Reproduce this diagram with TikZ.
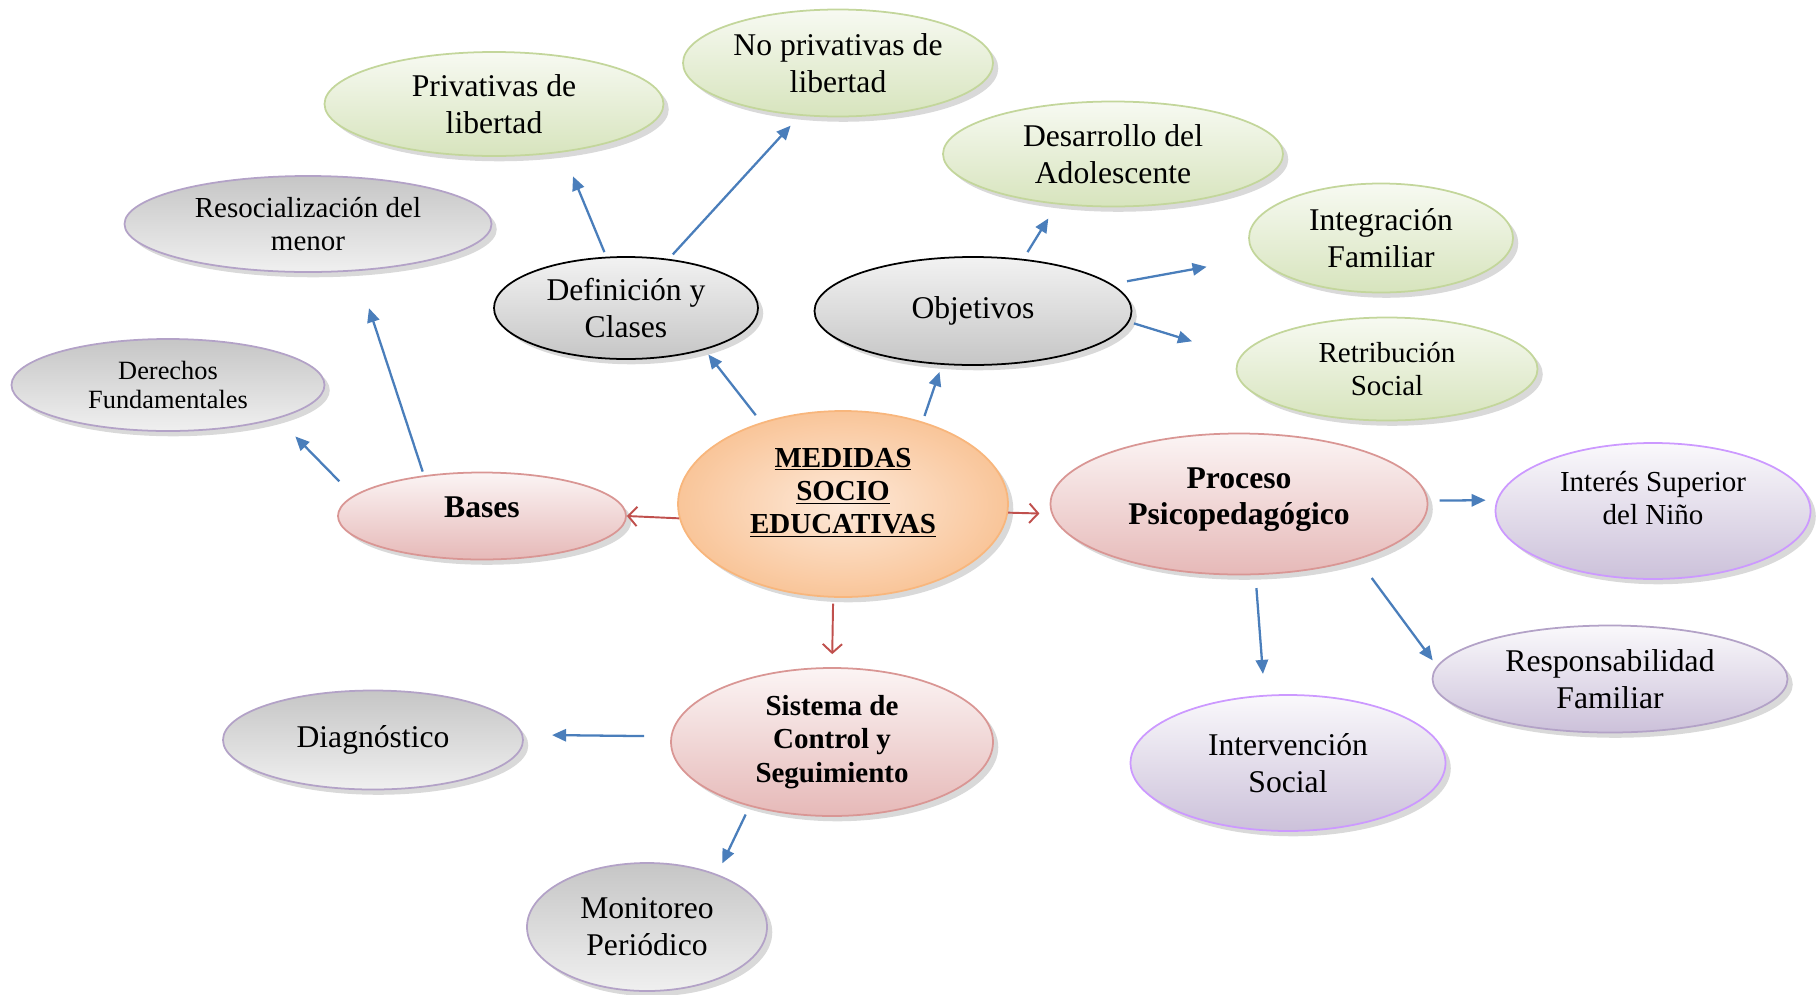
\documentclass[tikz,border=0pt]{standalone}
\usepackage{fontspec}
\setmainfont{Liberation Serif}
\usetikzlibrary{shapes.geometric,shadows,arrows.meta}

\definecolor{azul}{HTML}{4A7EBB}
\definecolor{rojo}{HTML}{C0504D}
\definecolor{naranjaborde}{HTML}{F8B67C}
\definecolor{naranjaclaro}{HTML}{FDE9D9}
\definecolor{naranja}{HTML}{F9C599}
\definecolor{rosaborde}{HTML}{D99694}
\definecolor{rosa}{HTML}{E6B9B8}
\definecolor{verdeborde}{HTML}{C3D69B}
\definecolor{verde}{HTML}{D7E4BD}
\definecolor{lilaborde}{HTML}{CC99FF}
\definecolor{lilagris}{HTML}{B3A2C7}
\definecolor{lila}{HTML}{CCC1DA}

\tikzset{
  elip/.style={ellipse, draw, line width=1pt, inner sep=0pt, align=center,
    font=\fontsize{18}{21}\selectfont,
    drop shadow={shadow xshift=3pt, shadow yshift=-3pt, opacity=.3}},
  tam/.style 2 args={minimum width=#1*0.02cm, minimum height=#2*0.02cm},
  medio/.style={font=\fontsize{16.5}{19}\selectfont},
  chico/.style={font=\fontsize{15}{17}\selectfont},
  negrita/.style={font=\fontsize{18}{21}\selectfont\bfseries},
  verdes/.style={elip, draw=verdeborde, top color=verde!20, bottom color=verde},
  grisn/.style={elip, draw=black, top color=gray!10, bottom color=gray!45},
  grisl/.style={elip, draw=lilagris, top color=gray!45, bottom color=gray!12},
  rosas/.style={elip, draw=rosaborde, top color=rosa!15, bottom color=rosa},
  lilas/.style={elip, draw=lilaborde, top color=lila!10, bottom color=lila},
  centro/.style={elip, draw=naranjaborde, inner color=naranjaclaro, outer color=naranja},
  flecha/.style={draw=azul, line width=1.3pt, -{Triangle[length=8pt,width=7pt]}},
  flecharoja/.style={draw=rojo, line width=1.1pt, -{Straight Barb[length=5pt,width=11pt]}}
}

\begin{document}
\begin{tikzpicture}[x=0.02cm, y=-0.02cm]

  \useasboundingbox (0,0) rectangle (1818,994);

  \node[centro, tam={330}{186}, medio] (med) at (843,504)
    {\bfseries\underline{MEDIDAS}\\ \bfseries\underline{SOCIO}\\ \bfseries\underline{EDUCATIVAS}\\[-4pt]\mbox{}};

  \node[rosas, tam={288}{87}, negrita] (bases) at (482,516) {Bases\\[-11pt]\mbox{}};
  \node[rosas, tam={377}{141}, negrita] (proc) at (1239,504) {Proceso\\Psicopedagógico\\[-12pt]\mbox{}};
  \node[rosas, tam={322}{148}, font=\fontsize{16.5}{19}\selectfont\bfseries] (sist) at (832,742)
    {Sistema de\\Control y\\Seguimiento};

  \node[grisl, tam={313}{92}, chico] (der) at (168,385) {Derechos\\Fundamentales};
  \node[grisl, tam={367}{96}, medio] (resoc) at (308,224) {Resocialización del\\menor};
  \node[grisl, tam={300}{99}] (diag) at (373,740) {Diagnóstico};
  \node[grisl, tam={240}{128}] (monit) at (647,927) {Monitoreo\\Periódico};

  \node[grisn, tam={264}{102}] (def) at (626,308) {Definición y\\Clases};
  \node[grisn, tam={317}{108}] (obj) at (973,311) {Objetivos};

  \node[verdes, tam={339}{104}] (priv) at (494,104) {Privativas de\\libertad};
  \node[verdes, tam={310}{107}] (nopriv) at (838,63) {No privativas de\\libertad};
  \node[verdes, tam={340}{105}] (desa) at (1113,154) {Desarrollo del\\Adolescente};
  \node[verdes, tam={264}{109}] (integ) at (1381,238) {Integración\\Familiar};
  \node[verdes, tam={301}{103}, medio] (retr) at (1387,369) {Retribución\\Social};

  \node[lilas, tam={315}{136}, medio] (inter) at (1653,511) {Interés Superior\\del Niño\\[-4pt]\mbox{}};
  \node[lilas, draw=lilagris, tam={355}{107}] (resp) at (1610,679) {Responsabilidad\\Familiar};
  \node[lilas, tam={315}{136}] (interv) at (1288,763) {Intervención\\Social};

  \begin{scope}[every edge/.style={flecharoja}]
    \path (med.185) edge (bases.-0.8);
    \path (med.-3.5) edge[shorten >=0.24cm] (proc.183);
    \path (med.-96.7) edge[shorten <=0.12cm, shorten >=0.26cm] (sist.north);
  \end{scope}

  \begin{scope}[every edge/.style={flecha}]
    \path (bases.171) edge[shorten <=0.4cm, shorten >=0.5cm] (der.-17);
    \path (bases.145) edge[shorten <=0.08cm, shorten >=0.78cm] (resoc.-44);
    \path (med.135) edge[shorten <=0.18cm, shorten >=0.12cm] (def.-28);
    \path (med.46) edge[shorten <=0.12cm, shorten >=0.15cm] (obj.240);
    \path (def.111) edge[shorten <=0.1cm, shorten >=0.52cm] (priv.-35);
    \path (def.49) edge[shorten <=0.12cm, shorten >=0.27cm] (nopriv.234);
    \path (obj.46) edge[shorten <=0.16cm, shorten >=0.33cm] (desa.222);
    \path (obj.11) edge[shorten <=0.31cm, shorten >=1.02cm] (integ.189.5);
    \path (obj.-4.7) edge[shorten <=0.1cm, shorten >=1.01cm] (retr.175.5);
    \path (proc.1) edge[shorten <=0.23cm, shorten >=0.22cm] (inter.176.3);
    \path (proc.-25.5) edge[shorten <=0.46cm, shorten >=1.32cm] (resp.194);
    \path (proc.-77) edge[shorten <=0.26cm, shorten >=0.42cm] (interv.109);
    \path (sist.178) edge[shorten <=0.53cm, shorten >=0.58cm] (diag.2.3);
    \path (sist.218.3) edge[shorten <=0.18cm, shorten >=0.24cm] (monit.37.4);
  \end{scope}

\end{tikzpicture}
\end{document}
